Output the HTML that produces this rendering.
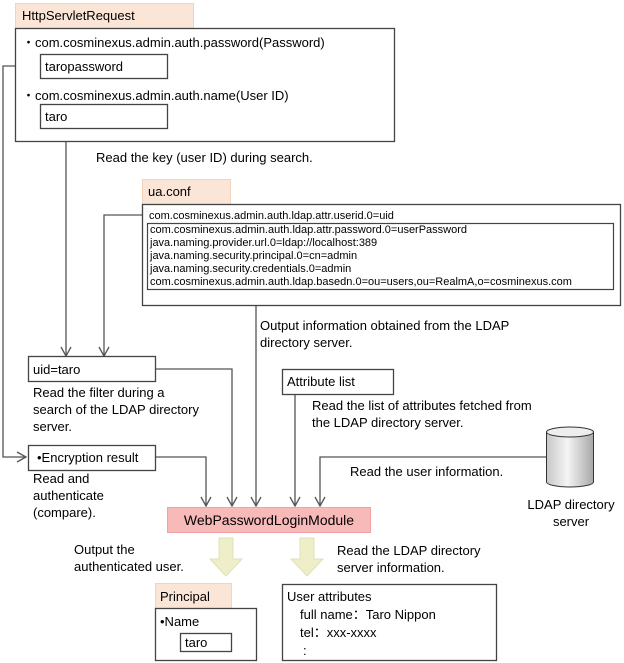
<!DOCTYPE html>
<html><head><meta charset="utf-8"><style>
html,body{margin:0;padding:0;background:#fff;}
svg{display:block;font-family:"Liberation Sans",sans-serif;}
</style></head><body>
<svg width="624" height="663" viewBox="0 0 624 663" xmlns="http://www.w3.org/2000/svg">
<g fill="none" stroke="#555" stroke-width="1.3">
 <polyline points="40,66 3,66 3,457 26,457"/>
 <line x1="66" y1="129" x2="66" y2="356"/>
 <polyline points="145,215 104,215 104,356"/>
 <polyline points="155,369 232,369 232,506"/>
 <polyline points="155,457 206,457 206,506"/>
 <line x1="256" y1="290" x2="256" y2="506"/>
 <line x1="295" y1="394" x2="295" y2="506"/>
 <polyline points="546,457 320,457 320,506"/>
 <polyline points="61,347 66,356 71,347"/>
 <polyline points="99,347 104,356 109,347"/>
 <polyline points="17,452 26,457 17,462"/>
 <polyline points="201,497 206,506 211,497"/>
 <polyline points="227,497 232,506 237,497"/>
 <polyline points="251,497 256,506 261,497"/>
 <polyline points="290,497 295,506 300,497"/>
 <polyline points="315,497 320,506 325,497"/>
</g>
<rect x="15.5" y="3.5" width="178" height="25" fill="#fbe5d6" stroke="#f3d3bb"/>
<text x="22" y="20" font-size="13">HttpServletRequest</text>
<rect x="15.5" y="28.5" width="379" height="113" fill="#fff" stroke="#444" stroke-width="1.3"/>
<text x="22" y="47" font-size="13">・com.cosminexus.admin.auth.password(Password)</text>
<rect x="40.5" y="54.5" width="127" height="24" fill="#fff" stroke="#444" stroke-width="1.3"/>
<text x="45" y="71" font-size="13">taropassword</text>
<text x="22" y="100" font-size="13">・com.cosminexus.admin.auth.name(User ID)</text>
<rect x="40.5" y="104.5" width="127" height="24" fill="#fff" stroke="#444" stroke-width="1.3"/>
<text x="45" y="121" font-size="13">taro</text>
<text x="96" y="162" font-size="13">Read the key (user ID) during search.</text>
<rect x="142.5" y="179.5" width="88" height="25" fill="#fbe5d6" stroke="#f3d3bb"/>
<text x="148" y="196" font-size="13">ua.conf</text>
<rect x="142.5" y="204.5" width="478" height="101" fill="#fff" stroke="#444" stroke-width="1.3"/>
<text x="149" y="219" font-size="11">com.cosminexus.admin.auth.ldap.attr.userid.0=uid</text>
<rect x="147.5" y="223.5" width="466" height="66" fill="#fff" stroke="#444" stroke-width="1.2"/>
<g font-size="11">
<text x="150" y="233">com.cosminexus.admin.auth.ldap.attr.password.0=userPassword</text>
<text x="150" y="246">java.naming.provider.url.0=ldap://localhost:389</text>
<text x="150" y="259">java.naming.security.principal.0=cn=admin</text>
<text x="150" y="272">java.naming.security.credentials.0=admin</text>
<text x="150" y="285">com.cosminexus.admin.auth.ldap.basedn.0=ou=users,ou=RealmA,o=cosminexus.com</text>
</g>
<text x="260" y="330" font-size="13">Output information obtained from the LDAP</text>
<text x="260" y="347" font-size="13">directory server.</text>
<rect x="28.5" y="356.5" width="127" height="25" fill="#fff" stroke="#444" stroke-width="1.3"/>
<text x="33" y="374" font-size="13">uid=taro</text>
<g font-size="13">
<text x="33" y="397">Read the filter during a</text>
<text x="33" y="414">search of the LDAP directory</text>
<text x="33" y="431">server.</text>
</g>
<rect x="282.5" y="369.5" width="111" height="25" fill="#fff" stroke="#444" stroke-width="1.3"/>
<text x="287" y="386" font-size="13">Attribute list</text>
<text x="312" y="410" font-size="13">Read the list of attributes fetched from</text>
<text x="312" y="427" font-size="13">the LDAP directory server.</text>
<rect x="28.5" y="445.5" width="127" height="25" fill="#fff" stroke="#444" stroke-width="1.3"/>
<text x="37" y="462" font-size="13">•Encryption result</text>
<g font-size="13">
<text x="33" y="483">Read and</text>
<text x="33" y="500">authenticate</text>
<text x="33" y="517">(compare).</text>
</g>
<defs><linearGradient id="cg" x1="0" x2="1"><stop offset="0" stop-color="#c8c8c8"/><stop offset="0.45" stop-color="#f4f4f4"/><stop offset="1" stop-color="#a8a8a8"/></linearGradient></defs>
<path d="M546.5,432 L546.5,482 A23.5,5 0 0 0 593.5,482 L593.5,432" fill="url(#cg)" stroke="#333"/>
<ellipse cx="570" cy="432" rx="23.5" ry="5" fill="#eee" stroke="#333"/>
<text x="350" y="476" font-size="13">Read the user information.</text>
<text x="571" y="509" font-size="13" text-anchor="middle">LDAP directory</text>
<text x="571" y="526" font-size="13" text-anchor="middle">server</text>
<rect x="167.5" y="507.5" width="203" height="25" fill="#f8b9b9" stroke="#f2a3a3"/>
<text x="269" y="525" font-size="14" text-anchor="middle">WebPasswordLoginModule</text>
<polygon points="219,538 233,538 233,559 242,559 226,576 210,559 219,559" fill="#eeeec8" stroke="#e0e0b8"/>
<polygon points="300,538 314,538 314,559 323,559 307,576 291,559 300,559" fill="#eeeec8" stroke="#e0e0b8"/>
<text x="74" y="554" font-size="13">Output the</text>
<text x="74" y="571" font-size="13">authenticated user.</text>
<text x="337" y="555" font-size="13">Read the LDAP directory</text>
<text x="337" y="572" font-size="13">server information.</text>
<rect x="155.5" y="583.5" width="76" height="25" fill="#fbe5d6" stroke="#f3d3bb"/>
<text x="160" y="601" font-size="13">Principal</text>
<rect x="155.5" y="608.5" width="101" height="52" fill="#fff" stroke="#444" stroke-width="1.3"/>
<text x="160" y="626" font-size="13">•Name</text>
<rect x="180.5" y="633.5" width="51" height="18" fill="#fff" stroke="#444" stroke-width="1.3"/>
<text x="185" y="647" font-size="13">taro</text>
<rect x="282.5" y="584.5" width="214" height="76" fill="#fff" stroke="#444" stroke-width="1.3"/>
<g font-size="13">
<text x="287" y="601">User attributes</text>
<text x="300" y="619">full name：Taro Nippon</text>
<text x="300" y="637">tel：xxx-xxxx</text>
<text x="303" y="655">:</text>
</g>
</svg>
</body></html>
